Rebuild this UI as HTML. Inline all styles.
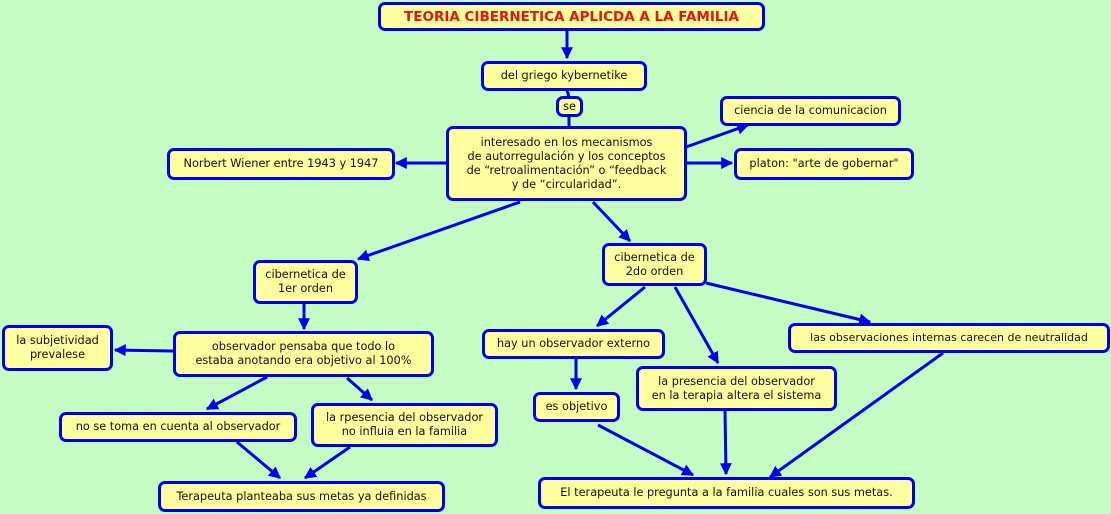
<!DOCTYPE html>
<html><head><meta charset="utf-8"><style>
body{margin:0;width:1111px;height:514px;background:#c4fcc4;position:relative;overflow:hidden;font-family:"DejaVu Sans","Liberation Sans",sans-serif;}
.b{position:absolute;box-sizing:border-box;background:#ffffa0;border:3px solid #0000ee;border-radius:7px;display:flex;align-items:center;justify-content:center;text-align:center;font-size:11.3px;line-height:14px;color:#111;white-space:nowrap;}
svg{position:absolute;left:0;top:0;}
</style></head><body>
<svg width="1111" height="514">
<defs><marker id="a" viewBox="0 0 10 10" refX="9" refY="5" markerWidth="4" markerHeight="4" orient="auto" markerUnits="strokeWidth"><path d="M0,0L10,5L0,10z" fill="#0000ee"/></marker></defs>
<g stroke="#0000ee" stroke-width="3" fill="none" marker-end="url(#a)">
<line x1="567" y1="30" x2="567" y2="58"/>
<line x1="446" y1="163" x2="396" y2="163"/>
<line x1="686" y1="147" x2="748" y2="125"/>
<line x1="686" y1="163" x2="732" y2="163"/>
<line x1="520" y1="202" x2="358" y2="259"/>
<line x1="593" y1="202" x2="630" y2="241"/>
<line x1="304" y1="303" x2="304" y2="329"/>
<line x1="173" y1="351" x2="115" y2="350"/>
<line x1="267" y1="377" x2="207" y2="409"/>
<line x1="347" y1="378" x2="372" y2="400"/>
<line x1="237" y1="442" x2="280" y2="478"/>
<line x1="350" y1="447" x2="305" y2="478"/>
<line x1="645" y1="287" x2="597" y2="326"/>
<line x1="675" y1="287" x2="718" y2="363"/>
<line x1="706" y1="283" x2="870" y2="322"/>
<line x1="576" y1="359" x2="576" y2="389"/>
<line x1="598" y1="425" x2="693" y2="475"/>
<line x1="725" y1="410" x2="726" y2="474"/>
<line x1="943" y1="353" x2="770" y2="477"/>
</g>
<g stroke="#0000ee" stroke-width="3"><line x1="567" y1="90" x2="569" y2="97"/><line x1="569" y1="116" x2="569" y2="126"/></g>
</svg>
<div class="b" style="left:378px;top:2px;width:387px;height:29px;color:#ee1111;font-weight:bold;font-size:13.5px;font-family:'DejaVu Sans',sans-serif">TEORIA CIBERNETICA APLICDA A LA FAMILIA</div>
<div class="b" style="left:481px;top:61px;width:166px;height:30px">del griego kybernetike</div>
<div class="b" style="left:556px;top:96px;width:27px;height:21px">se</div>
<div class="b" style="left:446px;top:126px;width:241px;height:75px">interesado en los mecanismos<br>de autorregulación y los conceptos<br>de “retroalimentación” o “feedback<br>y de “circularidad”.</div>
<div class="b" style="left:720px;top:96px;width:181px;height:30px">ciencia de la comunicacion</div>
<div class="b" style="left:734px;top:148px;width:180px;height:32px">platon: "arte de gobernar"</div>
<div class="b" style="left:167px;top:148px;width:228px;height:32px">Norbert Wiener entre 1943 y 1947</div>
<div class="b" style="left:253px;top:260px;width:105px;height:44px">cibernetica de<br>1er orden</div>
<div class="b" style="left:602px;top:243px;width:105px;height:43px">cibernetica de<br>2do orden</div>
<div class="b" style="left:2px;top:325px;width:111px;height:46px">la subjetividad<br>prevalese</div>
<div class="b" style="left:173px;top:331px;width:261px;height:46px">observador pensaba que todo lo<br>estaba anotando era objetivo al 100%</div>
<div class="b" style="left:59px;top:412px;width:238px;height:30px">no se toma en cuenta al observador</div>
<div class="b" style="left:311px;top:403px;width:187px;height:44px">la rpesencia del observador<br>no influia en la familia</div>
<div class="b" style="left:158px;top:481px;width:287px;height:31px">Terapeuta planteaba sus metas ya definidas</div>
<div class="b" style="left:482px;top:329px;width:183px;height:30px">hay un observador externo</div>
<div class="b" style="left:533px;top:392px;width:87px;height:30px">es objetivo</div>
<div class="b" style="left:636px;top:366px;width:201px;height:45px">la presencia del observador<br>en la terapia altera el sistema</div>
<div class="b" style="left:788px;top:323px;width:322px;height:30px;font-size:11px">las observaciones internas carecen de neutralidad</div>
<div class="b" style="left:538px;top:477px;width:377px;height:32px">El terapeuta le pregunta a la familia cuales son sus metas.</div>
</body></html>
